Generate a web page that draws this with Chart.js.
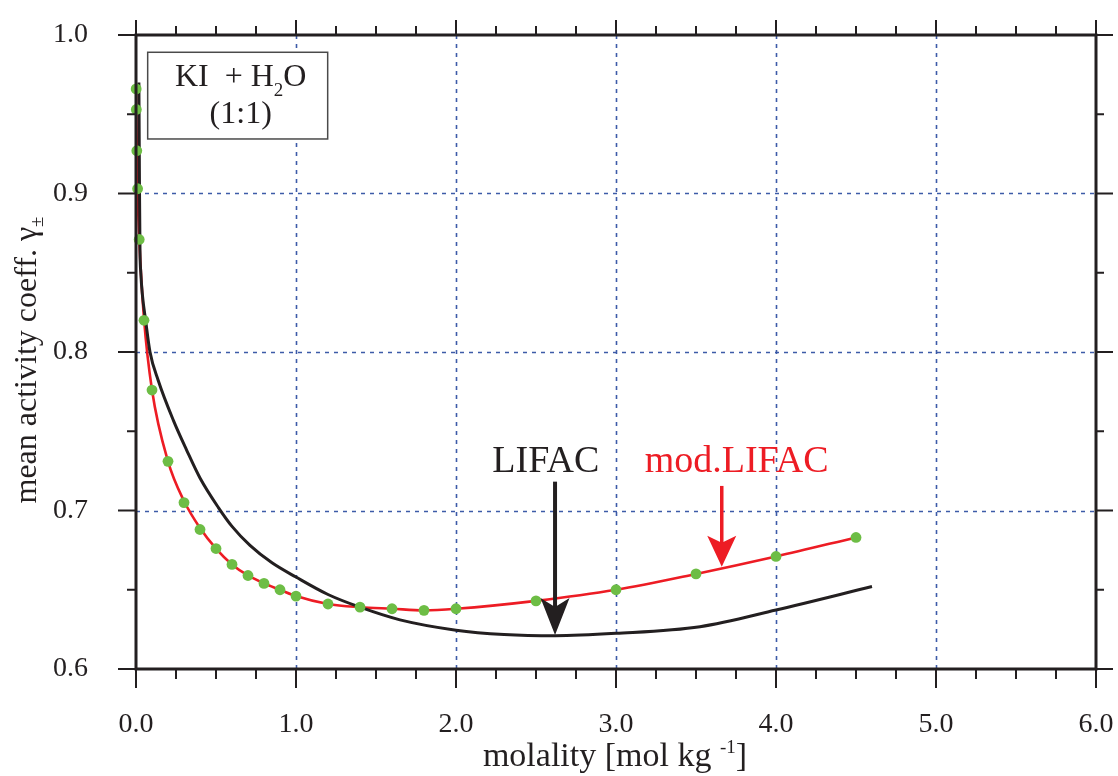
<!DOCTYPE html>
<html>
<head>
<meta charset="utf-8">
<script src="https://cdn.jsdelivr.net/npm/chart.js@4.4.1/dist/chart.umd.min.js"></script>
<style>
  html, body { margin: 0; padding: 0; background: #ffffff; }
  #wrap { width: 1118px; height: 776px; position: relative; }
  canvas { display: block; }
</style>
</head>
<body>
<div id="wrap"><canvas id="c" width="1118" height="776"></canvas></div>
<script>
// Experimental mean activity coefficients of KI in water
const expMolality = [0.001, 0.002, 0.005, 0.01, 0.02, 0.05, 0.1, 0.2, 0.3, 0.4, 0.5, 0.6, 0.7, 0.8, 0.9, 1.0, 1.2, 1.4, 1.6, 1.8, 2.0, 2.5, 3.0, 3.5, 4.0, 4.5];
const expGamma    = [0.966, 0.953, 0.927, 0.903, 0.871, 0.820, 0.776, 0.731, 0.705, 0.688, 0.676, 0.666, 0.659, 0.654, 0.650, 0.646, 0.641, 0.639, 0.638, 0.637, 0.638, 0.643, 0.650, 0.660, 0.671, 0.683];

// mod.LIFAC model curve
const modMolality = [0.001, 0.002, 0.005, 0.01, 0.02, 0.05, 0.1, 0.2, 0.3, 0.4, 0.5, 0.6, 0.7, 0.8, 0.9, 1.0, 1.2, 1.4, 1.6, 1.8, 2.0, 2.5, 3.0, 3.5, 4.0, 4.5];
const modGamma    = [0.966, 0.952, 0.928, 0.902, 0.872, 0.821, 0.776, 0.731, 0.706, 0.689, 0.676, 0.666, 0.659, 0.654, 0.650, 0.646, 0.641, 0.639, 0.638, 0.637, 0.638, 0.643, 0.650, 0.660, 0.671, 0.683];

// original LIFAC model curve
const lifacMolality = [0.018, 0.020, 0.022, 0.025, 0.03, 0.04, 0.06, 0.0875, 0.139, 0.233, 0.317, 0.40, 0.514, 0.60, 0.7125, 0.85, 1.0, 1.2, 1.4, 1.65, 2.0, 2.3, 2.62, 3.0, 3.525, 4.0, 4.6];
const lifacGamma    = [0.970, 0.935, 0.900, 0.864, 0.850, 0.836, 0.820, 0.800, 0.782, 0.757, 0.738, 0.7205, 0.702, 0.690, 0.678, 0.667, 0.658, 0.647, 0.639, 0.631, 0.6245, 0.6218, 0.621, 0.6225, 0.6267, 0.6372, 0.652];

// axis ranges and ticks
const xRange = [0, 6];
const yRange = [0.6, 1.0];
const xMajorStep = 1, xMinorStep = 0.25;
const yMajorStep = 0.1, yMinorStep = 0.05;
const xGridValues = [1, 2, 3, 4, 5];
const yGridValues = [0.7, 0.8, 0.9];

// annotations (data coordinates)
const arrowLifac = { x: 2.619, yFrom: 0.7182, yTo: 0.6215 };
const arrowMod   = { x: 3.661, yFrom: 0.7155, yTo: 0.6645 };
const labelLifac = { x: 2.561, y: 0.7245, text: 'LIFAC' };
const labelMod   = { x: 3.754, y: 0.7245, text: 'mod.LIFAC' };
const systemBox  = { x0: 0.073, x1: 1.198, y0: 0.9891, y1: 0.9344 };

const toPoints = (xs, ys) => xs.map((x, i) => ({ x: x, y: ys[i] }));

const SERIF = "'Liberation Serif', 'Times New Roman', serif";
const INK = '#231f20';
const RED = '#ed1c24';
const GREEN = '#6dbd45';
const GRID = '#3d5ba8';

function drawRich(ctx, parts, x, y) {
  // parts: {t, size, dy}; drawn centred on x, baseline y
  let total = 0;
  parts.forEach(p => { ctx.font = p.size + 'px ' + SERIF; p.w = ctx.measureText(p.t).width; total += p.w; });
  let cx = x - total / 2;
  ctx.textAlign = 'left';
  ctx.textBaseline = 'alphabetic';
  parts.forEach(p => { ctx.font = p.size + 'px ' + SERIF; ctx.fillText(p.t, cx, y + (p.dy || 0)); cx += p.w; });
}

function drawArrow(ctx, x, y0, y1, color, shaft, headLen, headW, notch) {
  ctx.save();
  ctx.strokeStyle = color; ctx.fillStyle = color;
  ctx.lineWidth = shaft;
  ctx.beginPath(); ctx.moveTo(x, y0); ctx.lineTo(x, y1 - headLen + notch + 1); ctx.stroke();
  ctx.beginPath();
  ctx.moveTo(x, y1);
  ctx.lineTo(x - headW / 2, y1 - headLen);
  ctx.lineTo(x, y1 - headLen + notch);
  ctx.lineTo(x + headW / 2, y1 - headLen);
  ctx.closePath(); ctx.fill();
  ctx.restore();
}

const underlay = {
  id: 'underlay',
  beforeDatasetsDraw(chart) {
    const { ctx, chartArea: a, scales: { x, y } } = chart;
    ctx.save();
    ctx.strokeStyle = GRID; ctx.lineWidth = 1.6; ctx.setLineDash([4, 5]);
    xGridValues.forEach(v => { const p = Math.round(x.getPixelForValue(v)) + 0.5; ctx.beginPath(); ctx.moveTo(p, a.top); ctx.lineTo(p, a.bottom); ctx.stroke(); });
    yGridValues.forEach(v => { const p = Math.round(y.getPixelForValue(v)) + 0.5; ctx.beginPath(); ctx.moveTo(a.left, p); ctx.lineTo(a.right, p); ctx.stroke(); });
    ctx.restore();
  }
};

const overlay = {
  id: 'overlay',
  afterDatasetsDraw(chart) {
    const { ctx, chartArea: a, scales: { x, y } } = chart;
    ctx.save();
    // frame
    ctx.strokeStyle = INK; ctx.lineWidth = 3; ctx.setLineDash([]);
    ctx.strokeRect(a.left, a.top, a.right - a.left, a.bottom - a.top);
    // tick marks on all four sides, pointing outward
    ctx.lineWidth = 2;
    for (let v = xRange[0]; v <= xRange[1] + 1e-9; v += xMinorStep) {
      const major = Math.abs(v / xMajorStep - Math.round(v / xMajorStep)) < 1e-6;
      const p = x.getPixelForValue(v);
      ctx.beginPath();
      ctx.moveTo(p, a.bottom); ctx.lineTo(p, a.bottom + (major ? 19 : 10));
      ctx.moveTo(p, a.top); ctx.lineTo(p, a.top - (major ? 15 : 9));
      ctx.stroke();
    }
    for (let v = yRange[0]; v <= yRange[1] + 1e-9; v += yMinorStep) {
      const major = Math.abs(v / yMajorStep - Math.round(v / yMajorStep)) < 1e-6;
      const p = y.getPixelForValue(v);
      ctx.beginPath();
      ctx.moveTo(a.left, p); ctx.lineTo(a.left - (major ? 18 : 9), p);
      ctx.moveTo(a.right, p); ctx.lineTo(a.right + (major ? 17 : 8), p);
      ctx.stroke();
    }
    // system label box
    const bx0 = x.getPixelForValue(systemBox.x0), bx1 = x.getPixelForValue(systemBox.x1);
    const by0 = y.getPixelForValue(systemBox.y0), by1 = y.getPixelForValue(systemBox.y1);
    ctx.fillStyle = '#ffffff';
    ctx.fillRect(bx0, by0, bx1 - bx0, by1 - by0);
    ctx.strokeStyle = '#4a4a4a'; ctx.lineWidth = 1.5;
    ctx.strokeRect(bx0, by0, bx1 - bx0, by1 - by0);
    ctx.fillStyle = INK;
    const bcx = (bx0 + bx1) / 2 + 3;
    drawRich(ctx, [{ t: 'KI  + H', size: 32 }, { t: '2', size: 19, dy: 10 }, { t: 'O', size: 32 }], bcx, by0 + 34);
    drawRich(ctx, [{ t: '(1:1)', size: 32 }], bcx, by0 + 71);
    // arrows and model labels
    drawArrow(ctx, x.getPixelForValue(arrowLifac.x), y.getPixelForValue(arrowLifac.yFrom), y.getPixelForValue(arrowLifac.yTo), INK, 4, 37, 29, 9);
    drawArrow(ctx, x.getPixelForValue(arrowMod.x), y.getPixelForValue(arrowMod.yFrom), y.getPixelForValue(arrowMod.yTo), RED, 3.5, 31, 29, 7);
    ctx.fillStyle = INK;
    drawRich(ctx, [{ t: labelLifac.text, size: 38 }], x.getPixelForValue(labelLifac.x), y.getPixelForValue(labelLifac.y));
    ctx.fillStyle = RED;
    drawRich(ctx, [{ t: labelMod.text, size: 38 }], x.getPixelForValue(labelMod.x), y.getPixelForValue(labelMod.y));
    // axis titles
    ctx.fillStyle = INK;
    drawRich(ctx, [{ t: 'molality [mol kg ', size: 34 }, { t: '-1', size: 19, dy: -13 }, { t: ']', size: 34 }], (a.left + a.right) / 2 - 1, a.bottom + 97);
    ctx.save();
    ctx.translate(a.left - 100, a.top + 325);
    ctx.rotate(-Math.PI / 2);
    drawRich(ctx, [{ t: 'mean activity coeff. γ', size: 32 }, { t: '±', size: 19, dy: 7 }], 0, 0);
    ctx.restore();
    ctx.restore();
  }
};

// fixed axis box sizes, no extra room for label overhang
const fixBox = size => s => {
  if (s.isHorizontal()) { s.height = size; } else { s.width = size; }
  s.paddingLeft = 0; s.paddingRight = 0; s.paddingTop = 0; s.paddingBottom = 0;
};

new Chart(document.getElementById('c'), {
  type: 'scatter',
  data: {
    datasets: [
      {
        label: 'exp.',
        data: toPoints(expMolality, expGamma),
        showLine: false,
        pointRadius: 5.4,
        pointBackgroundColor: GREEN,
        pointBorderWidth: 0,
        clip: false,
        order: 0
      },
      {
        label: 'LIFAC',
        data: toPoints(lifacMolality, lifacGamma),
        showLine: true,
        borderColor: INK,
        borderWidth: 3,
        pointRadius: 0,
        cubicInterpolationMode: 'monotone',
        order: 1
      },
      {
        label: 'mod.LIFAC',
        data: toPoints(modMolality, modGamma),
        showLine: true,
        borderColor: RED,
        borderWidth: 2.6,
        pointRadius: 0,
        cubicInterpolationMode: 'monotone',
        order: 2
      }
    ]
  },
  options: {
    responsive: false,
    animation: false,
    devicePixelRatio: 1,
    layout: { padding: { top: 35, right: 22, left: 0, bottom: 0 } },
    plugins: { legend: { display: false }, tooltip: { enabled: false } },
    scales: {
      x: {
        type: 'linear',
        min: xRange[0], max: xRange[1],
        grid: { display: false },
        border: { display: false },
        ticks: {
          stepSize: xMajorStep,
          callback: v => v.toFixed(1),
          font: { family: SERIF, size: 28 },
          color: INK,
          padding: 31,
          maxRotation: 0
        },
        afterFit: fixBox(107)
      },
      y: {
        type: 'linear',
        min: yRange[0], max: yRange[1],
        grid: { display: false },
        border: { display: false },
        ticks: {
          stepSize: yMajorStep,
          callback: v => v.toFixed(1),
          font: { family: SERIF, size: 28 },
          color: INK,
          padding: 40
        },
        afterFit: fixBox(136)
      }
    }
  },
  plugins: [underlay, overlay]
});
</script>
</body>
</html>
